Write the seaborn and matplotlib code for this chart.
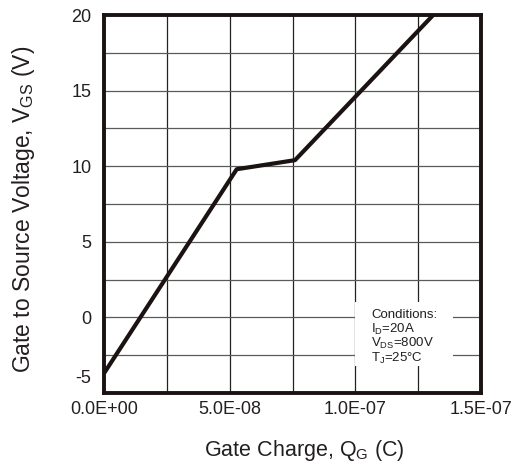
import matplotlib
matplotlib.use("Agg")
import matplotlib.pyplot as plt
import matplotlib.transforms as mtransforms
from matplotlib.patches import Rectangle
import seaborn as sns
import pandas as pd
import numpy as np

charge = [0.0, 5.28e-8, 7.6e-8, 1.31e-7]
vgs = [-3.7, 9.8, 10.4, 20.0]
xticks = [0.0, 5.0e-8, 1.0e-7, 1.5e-7]
xtick_labels = ["0.0E+00", "5.0E-08", "1.0E-07", "1.5E-07"]
yticks = [-5, 0, 5, 10, 15, 20]
conditions = ["Conditions:", r"I$_{\mathregular{D}}$=20A", r"V$_{\mathregular{DS}}$=800V", r"T$_{\mathregular{J}}$=25°C"]

sns.set_style("white")
plt.rcParams['font.family'] = ['Liberation Sans', 'DejaVu Sans']
plt.rcParams['mathtext.fontset'] = 'custom'
plt.rcParams['mathtext.rm'] = 'Liberation Sans'

W, H = 524, 465
fig = plt.figure(figsize=(W / 100, H / 100), dpi=100)
ax = fig.add_axes([104 / W, 1 - 393 / H, 377 / W, 378 / H])

df = pd.DataFrame({"Q": charge, "V": vgs})
sns.lineplot(data=df, x="Q", y="V", ax=ax, color="#1a1311", linewidth=3, zorder=3)

ax.set_xlim(0, 1.5e-7)
ax.set_ylim(-5, 20)
ax.set_xticks(np.arange(0, 1.5e-7 + 1e-9, 2.5e-8), minor=True)
ax.set_yticks(np.arange(-5, 20.1, 2.5), minor=True)
ax.set_xticks(xticks)
ax.set_xticklabels(xtick_labels)
ax.set_yticks(yticks)
ax.set_yticklabels([str(v) for v in yticks])
ax.xaxis.grid(True, which="both", color="#222222", linewidth=0.9)
ax.yaxis.grid(True, which="both", color="#5a5a5a", linewidth=0.9)
ax.tick_params(which="both", length=0, labelsize=13, colors="#231f20")
ax.tick_params(axis="x", pad=6)
ax.tick_params(axis="y", pad=9)
for lbl in ax.get_yticklabels():
    if lbl.get_text() == "-5":
        lbl.set_verticalalignment("bottom")
        lbl.set_transform(lbl.get_transform() +
                          mtransforms.ScaledTranslation(0, 4 / 72, fig.dpi_scale_trans))
for s in ax.spines.values():
    s.set_linewidth(2.8)
    s.set_color("#1a1311")
    s.set_zorder(5)

ax.set_xlabel(r"Gate Charge, Q$_{\mathregular{G}}$ (C)", fontsize=15.5, color="#231f20")
ax.set_ylabel(r"Gate to Source Voltage, V$_{\mathregular{GS}}$ (V)", fontsize=16.5, color="#231f20")
ax.xaxis.set_label_coords((304.5 - 104) / 377, (393 - 438) / 378)
ax.yaxis.set_label_coords((37 - 104) / 377, (393 - 209) / 378)

# conditions box (white patch hiding gridlines)
rect = Rectangle((355 / W, 1 - 366 / H), 98 / W, 64 / H, transform=fig.transFigure,
                 facecolor="white", edgecolor="none", zorder=4)
rect.set_clip_on(False)
ax.add_artist(rect)
baselines = [318, 333, 347, 362]
for txt, yb in zip(conditions, baselines):
    ax.text(371 / W, 1 - yb / H, txt, transform=fig.transFigure,
            fontsize=9.5, va="baseline", ha="left", color="#231f20", zorder=6)

fig.savefig("out.png", dpi=100)
